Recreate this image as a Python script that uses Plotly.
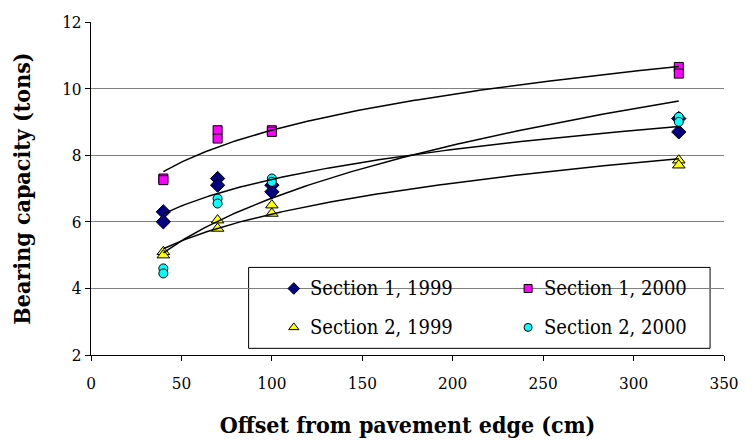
import numpy as np
import plotly.graph_objects as go

# Offsets (cm) at which bearing capacity was measured, two readings each
offsets = [40, 40, 70, 70, 100, 100, 325, 325]

# Bearing capacity (tons) per section and year
sec1_1999 = [6.3, 6.0, 7.3, 7.1, 7.1, 6.9, 8.7, 9.1]
sec1_2000 = [7.3, 7.25, 8.75, 8.5, 8.75, 8.7, 10.65, 10.45]
sec2_1999 = [5.1, 5.0, 6.05, 5.8, 6.5, 6.25, 7.85, 7.7]
sec2_2000 = [4.6, 4.45, 6.7, 6.55, 7.3, 7.2, 9.15, 9.0]

series_names = ["Section 1, 1999", "Section 1, 2000",
                "Section 2, 1999", "Section 2, 2000"]
series_values = [sec1_1999, sec1_2000, sec2_1999, sec2_2000]
symbols = ["diamond", "square", "triangle-up", "circle"]
colors = ["#000080", "#FF00FF", "#FFFF00", "#00FFFF"]
sizes = [11, 9, 11, 9]
key_sizes = [9, 8, 9, 8]

FONT = "DejaVu Serif Condensed, DejaVu Serif"

fig = go.Figure()

# Measured points
for name, vals, sym, col, sz in zip(series_names, series_values, symbols, colors, sizes):
    fig.add_trace(go.Scatter(
        x=offsets, y=vals, mode="markers", name=name, showlegend=False,
        marker=dict(symbol=sym, color=col, size=sz,
                    line=dict(color="black", width=1)),
    ))

# Power-law trend line fitted to each series: y = a * x^b
xs = np.linspace(min(offsets), max(offsets), 200)
lx = np.log(np.array(offsets, dtype=float))
for vals in series_values:
    b, ln_a = np.polyfit(lx, np.log(np.array(vals, dtype=float)), 1)
    fig.add_trace(go.Scatter(
        x=xs, y=np.exp(ln_a) * xs ** b, mode="lines",
        line=dict(color="black", width=1.5), showlegend=False,
        hoverinfo="skip",
    ))

# Key box in the lower right of the plot area (2 x 2 entries)
box_x0, box_x1, box_y0, box_y1 = 0.249, 0.978, 0.020, 0.263
key_cols = [0.3204, 0.6905]
key_rows = [0.1997, 0.0829]
text_dx = 0.0217

fig.add_shape(type="rect", xref="paper", yref="paper",
              x0=box_x0, x1=box_x1, y0=box_y0, y1=box_y1,
              fillcolor="white", line=dict(color="black", width=1),
              layer="between")

for i, (name, sym, col, ksz) in enumerate(zip(series_names, symbols, colors, key_sizes)):
    kx = key_cols[i % 2]
    ky = key_rows[i // 2]
    fig.add_trace(go.Scatter(
        x=[kx], y=[ky], xaxis="x2", yaxis="y2", mode="markers",
        showlegend=False, hoverinfo="skip",
        marker=dict(symbol=sym, color=col, size=ksz,
                    line=dict(color="black", width=1)),
    ))
    fig.add_annotation(x=kx + text_dx, y=ky, xref="paper", yref="paper",
                       text=name, showarrow=False, xanchor="left",
                       yanchor="middle", font=dict(family=FONT, size=20))

fig.update_layout(
    width=751, height=448,
    margin=dict(l=91, r=17, t=21, b=93),
    paper_bgcolor="white", plot_bgcolor="white",
    font=dict(family=FONT, size=17, color="black"),
    showlegend=False,
    xaxis=dict(
        range=[0, 350], dtick=50, tick0=0,
        showgrid=False, zeroline=False,
        showline=True, linecolor="black", linewidth=1,
        ticks="outside", ticklen=5, tickcolor="black",
        ticklabelstandoff=8,
        tickfont=dict(family=FONT, size=17),
        title=dict(text="<b>Offset from pavement edge (cm)</b>",
                   font=dict(family=FONT, size=23), standoff=24),
    ),
    yaxis=dict(
        range=[2, 12], dtick=2, tick0=2,
        showgrid=True, gridcolor="#808080", gridwidth=1,
        zeroline=False,
        showline=True, linecolor="black", linewidth=1,
        ticks="outside", ticklen=5, tickcolor="black",
        tickfont=dict(family=FONT, size=17),
        title=dict(text="<b>Bearing capacity (tons)</b>",
                   font=dict(family=FONT, size=23), standoff=25),
    ),
    xaxis2=dict(range=[0, 1], overlaying="x", visible=False, fixedrange=True),
    yaxis2=dict(range=[0, 1], overlaying="y", visible=False, fixedrange=True),
)

fig.write_html("out.html")
